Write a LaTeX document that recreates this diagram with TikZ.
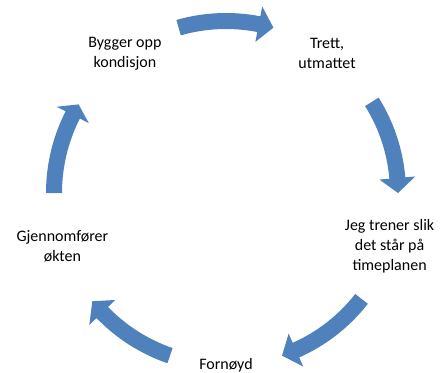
\documentclass[tikz,border=0pt]{standalone}
\usepackage{fontspec}
\setmainfont{Carlito}
\usepackage{tikz}
\usetikzlibrary{calc}
\usetikzlibrary{positioning}
\definecolor{cycleblue}{RGB}{79, 129, 189}

\begin{document}
\begin{tikzpicture}[x=0.75pt, y=0.75pt, font=\fontsize{12}{15}\selectfont]
            \useasboundingbox                                              (-226,-179) rectangle (215,193);
            \node[align=center] (bygger)   at ( 126:172) {Bygger opp\\kondisjon};
            \node[align=center] (trett)    at (  54:172) {Trett,\\utmattet};
            \node[align=center] (trener)   at ( -18:172) {Jeg trener slik\\det står på\\timeplanen};
            \node[align=center] (fornoyd)  at ( -90:172) {Fornøyd};
            \node[align=center] (okten)    at (-162:172) {Gjennomfører\\økten};
            \fill[cycleblue] ( 180:180) arc[start angle= 180, end angle= 153, radius=180] -- ( 153:190) -- ( 149:172) -- ( 153:154)
                 -- ( 153:164) arc[start angle= 153, end angle= 180, radius=164] -- cycle;
            \fill[cycleblue] ( 106:180) arc[start angle= 106, end angle=  79, radius=180] -- (  79:190) -- (  74:172) -- (  79:154)
                 -- (  79:164) arc[start angle=  79, end angle= 106, radius=164] -- cycle;
            \fill[cycleblue] (  32:180) arc[start angle=  32, end angle=   5, radius=180] -- (   5:190) -- (   0:172) -- (   5:154)
                 -- (   5:164) arc[start angle=   5, end angle=  32, radius=164] -- cycle;
            \fill[cycleblue] ( -38:180) arc[start angle= -38, end angle= -66, radius=180] -- ( -66:190) -- ( -71:172) -- ( -66:154)
                 -- ( -66:164) arc[start angle= -66, end angle= -38, radius=164] -- cycle;
            \fill[cycleblue] (-109:180) arc[start angle=-109, end angle=-136, radius=180] -- (-136:190) -- (-141:172) -- (-136:154)
                 -- (-136:164) arc[start angle=-136, end angle=-109, radius=164] -- cycle;
        \end{tikzpicture}
\end{document}
